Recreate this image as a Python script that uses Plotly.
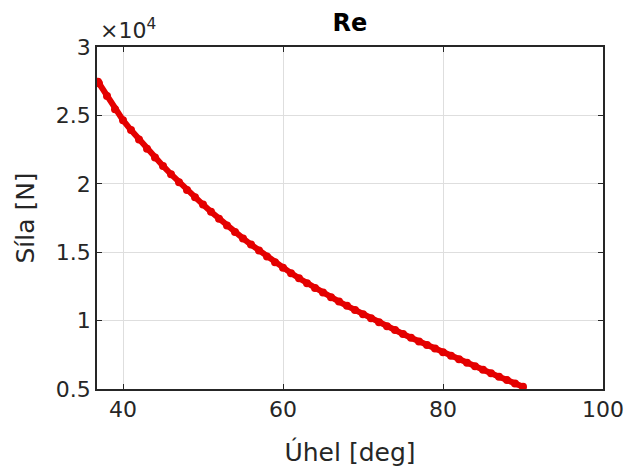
import plotly.graph_objects as go

# Data
angle_deg = [36.87, 37, 38, 39, 40, 41, 42, 43, 44, 45, 46, 47, 48, 49, 50, 51, 52, 53,
             54, 55, 56, 57, 58, 59, 60, 61, 62, 63, 64, 65, 66, 67, 68, 69, 70, 71,
             72, 73, 74, 75, 76, 77, 78, 79, 80, 81, 82, 83, 84, 85, 86, 87, 88, 89, 90]
force_n = [27460, 27340, 26420, 25450, 24650, 23930, 23240, 22570, 21930, 21310, 20700,
           20115, 19550, 19010, 18480, 17960, 17450, 16955, 16475, 16010, 15560, 15120,
           14690, 14270, 13860, 13470, 13095, 12735, 12385, 12045, 11715, 11393, 11078,
           10770, 10470, 10175, 9880, 9590, 9305, 9025, 8750, 8480, 8215, 7953, 7695,
           7430, 7168, 6910, 6654, 6400, 6148, 5898, 5650, 5404, 5160]

x_ticks = [40, 60, 80, 100]
x_tick_labels = ["40", "60", "80", "100"]
y_ticks = [5000, 10000, 15000, 20000, 25000, 30000]
y_tick_labels = ["0.5", "1", "1.5", "2", "2.5", "3"]

title_text = "Re"
x_label = "Úhel [deg]"
y_label = "Síla [N]"
exp_label = "×10<sup>4</sup>"

FONT = "DejaVu Sans"
AX = "rgb(38,38,38)"
RED = "rgb(228,0,0)"

fig = go.Figure()
fig.add_trace(go.Scatter(
    x=angle_deg, y=force_n, mode="lines+markers",
    line=dict(color=RED, width=6),
    marker=dict(color=RED, size=8, symbol="circle"),
    showlegend=False, hoverinfo="skip",
))

axis_common = dict(
    showline=True, linecolor=AX, linewidth=1.5, mirror="ticks",
    ticks="inside", ticklen=5, tickwidth=1, tickcolor=AX,
    showgrid=True, gridcolor="rgb(222,222,222)", gridwidth=1,
    zeroline=False, automargin=False,
    tickfont=dict(family=FONT, size=22, color=AX),
)

fig.update_layout(
    width=628, height=472,
    margin=dict(l=97, r=25, t=47, b=83),
    paper_bgcolor="white", plot_bgcolor="white",
    title=dict(text="<b>" + title_text + "</b>", x=(97 + 603) / 2 / 628, xanchor="center",
               y=1 - 23 / 472, yanchor="middle",
               font=dict(family=FONT, size=24, color="black")),
    xaxis=dict(range=[36.75, 100], tickvals=x_ticks, ticktext=x_tick_labels,
               title=dict(text=x_label, standoff=22,
                          font=dict(family=FONT, size=25, color=AX)),
               **axis_common),
    yaxis=dict(range=[5000, 30000], tickvals=y_ticks, ticktext=y_tick_labels,
               title=dict(text=y_label, standoff=14,
                          font=dict(family=FONT, size=25, color=AX)),
               **axis_common),
    annotations=[dict(text=exp_label, xref="paper", yref="paper", x=0.0, y=1.0,
                      xanchor="left", yanchor="bottom", showarrow=False,
                      xshift=1, yshift=2,
                      font=dict(family=FONT, size=22, color=AX))],
)

fig.write_html(
    "out.html",
    config={"displayModeBar": False},
    post_script="document.body.style.margin='0';document.body.style.padding='0';",
)
